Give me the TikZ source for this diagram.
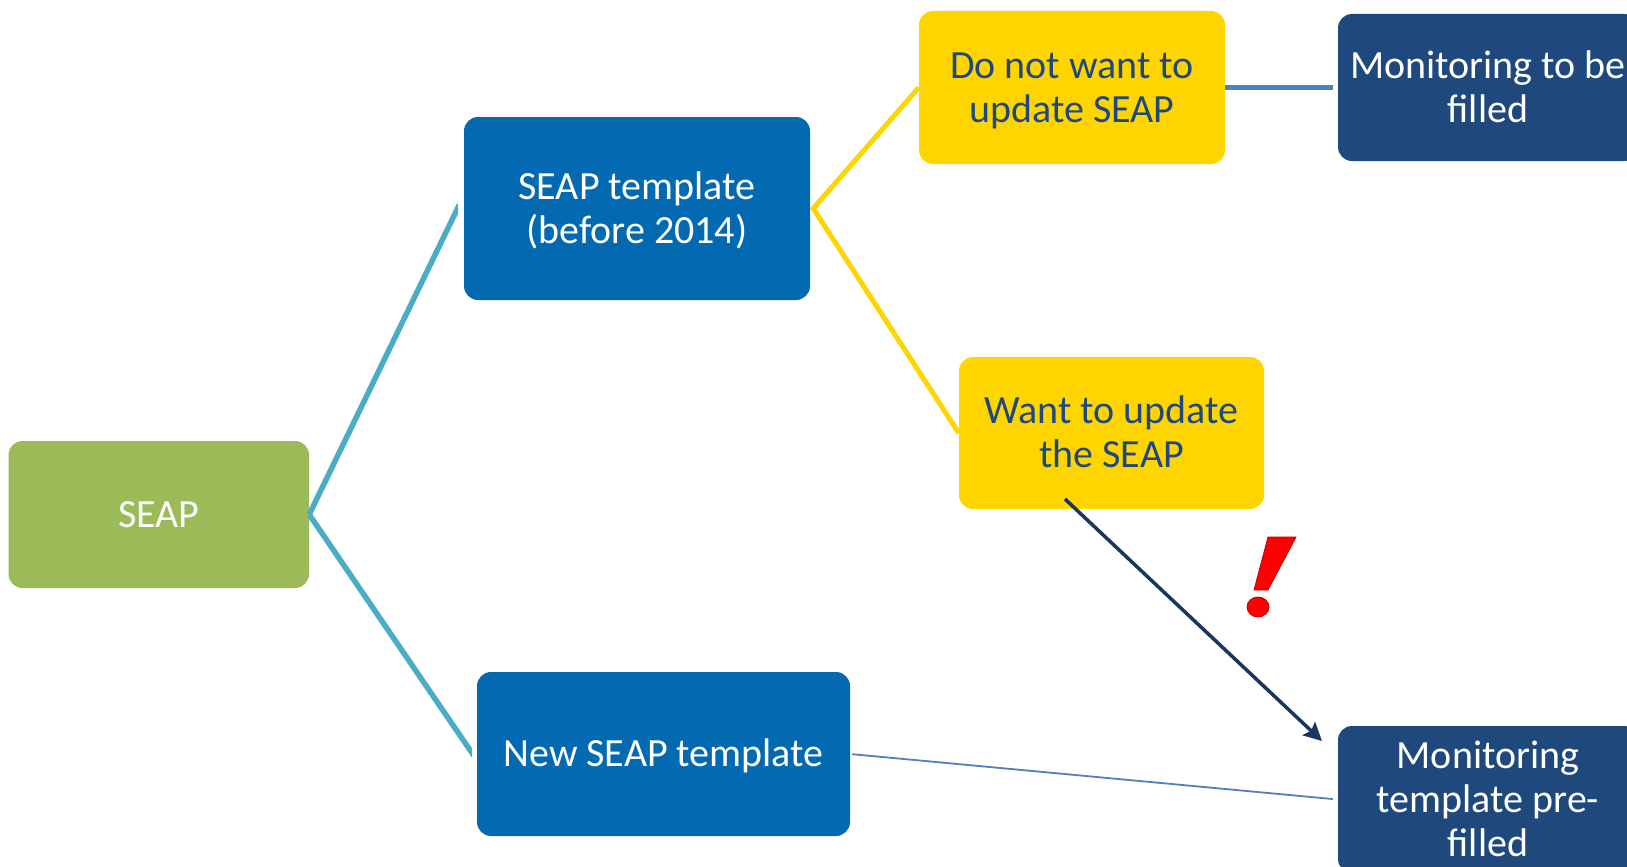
\documentclass[tikz,border=0pt]{standalone}
\usepackage{fontspec}
\setmainfont{Carlito}
\usetikzlibrary{arrows.meta}
\definecolor{cgreen}{HTML}{9BBB59}
\definecolor{cblue}{HTML}{036AB2}
\definecolor{cyellow}{HTML}{FFD500}
\definecolor{cdark}{HTML}{1F497D}
\definecolor{cteal}{HTML}{4BACC6}
\definecolor{cline}{HTML}{4F81BD}
\definecolor{carrow}{HTML}{17375E}
\newcommand\tstrut{\rule[-8pt]{0pt}{41pt}}
\tikzset{
  x=1pt,y=-1pt,
  boxbase/.style={rounded corners=14pt,inner sep=0pt,align=center,
    font=\fontsize{40}{44}\selectfont,text=white},
  greenbox/.style={boxbase,fill=cgreen},
  bluebox/.style={boxbase,fill=cblue},
  yellowbox/.style={boxbase,fill=cyellow,text=cdark},
  darkbox/.style={boxbase,fill=cdark},
  tealline/.style={draw=cteal,line width=5.5pt,shorten >=-3pt},
  yellowline/.style={draw=cyellow,line width=5pt},
  blueline/.style={draw=cline},
  warnline/.style={draw=carrow,line width=3.5pt,-{Stealth[length=18pt,width=18pt,inset=3pt]}}
}
\begin{document}
\begin{tikzpicture}
\useasboundingbox (0,0) rectangle (1627,867);
\clip (0,0) rectangle (1627,867);
\fill[white] (0,0) rectangle (1627,867);
\node[greenbox,minimum width=300.5pt,minimum height=147pt] (seap) at (158.75,514.5) {\tstrut SEAP};
\node[bluebox,minimum width=346pt,minimum height=183pt] (tpl) at (637,208.5) {\tstrut SEAP template\\\tstrut (before 2014)};
\node[bluebox,minimum width=373pt,minimum height=164pt] (new) at (663.5,754) {\tstrut New SEAP template};
\node[yellowbox,minimum width=306pt,minimum height=153pt] (nou) at (1072,87.5) {\tstrut Do not want to\\\tstrut update SEAP};
\node[yellowbox,minimum width=305pt,minimum height=152pt] (upd) at (1111.5,433) {\tstrut Want to update\\\tstrut the SEAP};
\node[darkbox,minimum width=300pt,minimum height=147pt] (mon) at (1488,87.5) {\tstrut Monitoring to be\\\tstrut filled};
\node[darkbox,minimum width=300pt,minimum height=147pt] (pre) at (1488,799.5) {\tstrut Monitoring\\template pre-\\\tstrut filled};
\coordinate (wstart) at (1065,499);
\coordinate (wend) at (1322,741);
\coordinate (tplin) at (458,207.5);
\coordinate (newin) at (472,753);
\begin{scope}
\clip (0,0) rectangle (458,867);
\draw[tealline] (seap.east) -- (tplin);
\end{scope}
\begin{scope}
\clip (0,0) rectangle (472,867);
\draw[tealline] (seap.east) -- (newin);
\end{scope}
\draw[yellowline,line join=miter] (nou.west) -- ([xshift=3pt]tpl.east) -- (upd.west);
\draw[blueline,line width=5pt,shorten >=5pt] (nou.east) -- (mon.west);
\draw[blueline,line width=1.8pt,shorten >=5pt,shorten <=2pt] (new.east) -- (pre.west);
\draw[warnline] (wstart) -- (wend);
\fill[red,draw=red!75!black,line width=.8pt,line join=round] (1268,537) -- (1296,537) -- (1268,590) -- (1254,590) -- cycle;
\fill[red,draw=red!75!black,line width=.8pt] (1258,607) ellipse [x radius=11pt,y radius=10pt];
\end{tikzpicture}
\end{document}
